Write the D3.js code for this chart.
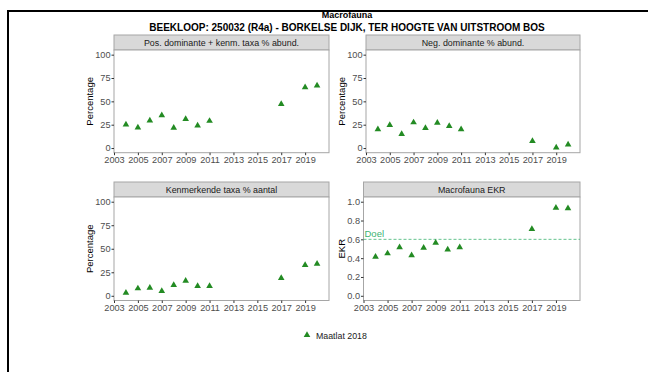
<!DOCTYPE html>
<html><head><meta charset="utf-8">
<script src="https://cdn.jsdelivr.net/npm/d3@7/dist/d3.min.js"></script>
<style>body{margin:0;background:#fff}svg{display:block;font-family:"Liberation Sans",Arial,sans-serif}</style>
</head><body>
<script>
const years = [2004, 2005, 2006, 2007, 2008, 2009, 2010, 2011, 2017, 2019, 2020];
const posDominant = [25, 22, 29.5, 35, 21.7, 31, 24, 29, 47, 65, 67];
const negDominant = [20, 24.5, 15, 27.4, 21.4, 27, 23.5, 20, 7.5, 0.4, 3.6];
const kenmerkend = [3.2, 7.8, 8.5, 5, 11.3, 16, 10.3, 10.3, 18.8, 32.6, 34];
const ekr = [0.415, 0.45, 0.514, 0.43, 0.51, 0.564, 0.49, 0.514, 0.71, 0.936, 0.93];
const xTicks = [2003, 2005, 2007, 2009, 2011, 2013, 2015, 2017, 2019];
const pctTicks = [0, 25, 50, 75, 100];
const ekrTicks = [0, 0.2, 0.4, 0.6, 0.8, 1.0];
const doel = 0.6;
const panelTitles = ["Pos. dominante + kenm. taxa % abund.", "Neg. dominante % abund.", "Kenmerkende taxa % aantal", "Macrofauna EKR"];
const title = "Macrofauna";
const subtitle = "BEEKLOOP: 250032 (R4a) - BORKELSE DIJK, TER HOOGTE VAN UITSTROOM BOS";
const legendLabel = "Maatlat 2018";

const W = 648, H = 372;
const svg = d3.select("body").append("svg").attr("width", W).attr("height", H);
svg.append("rect").attr("width", W).attr("height", H).attr("fill", "#fff");
svg.append("rect").attr("x", 8).attr("y", 11).attr("width", 660).attr("height", 400)
  .attr("fill", "none").attr("stroke", "#000").attr("stroke-width", 2);

svg.append("text").attr("x", 347).attr("y", 17.5).attr("text-anchor", "middle")
  .attr("font-size", 9).attr("font-weight", "bold").text(title);
svg.append("text").attr("x", 347).attr("y", 30.5).attr("text-anchor", "middle")
  .attr("font-size", 10).attr("font-weight", "bold").text(subtitle);

const green = "#238b23";
const tri = d3.symbol().type(d3.symbolTriangle).size(19);

const panels = [
  {x0: 114, x1: 329, top: 35, bottom: 152.7, values: posDominant, yDom: [-5, 105], ticks: pctTicks, fmt: d => d, ytitle: "Percentage", titleX: 93, name: panelTitles[0]},
  {x0: 366, x1: 580, top: 35, bottom: 152.7, values: negDominant, yDom: [-5, 105], ticks: pctTicks, fmt: d => d, ytitle: "Percentage", titleX: 345, name: panelTitles[1]},
  {x0: 114, x1: 329, top: 182, bottom: 300.5, values: kenmerkend, yDom: [-5, 105], ticks: pctTicks, fmt: d => d, ytitle: "Percentage", titleX: 93, name: panelTitles[2]},
  {x0: 363.5, x1: 580, top: 182, bottom: 300.5, values: ekr, yDom: [-0.05, 1.05], ticks: ekrTicks, fmt: d3.format(".1f"), ytitle: "EKR", titleX: 345, name: panelTitles[3], doel: true}
];

panels.forEach(p => {
  const stripH = 15;
  const pTop = p.top + stripH;
  const g = svg.append("g");
  const x = d3.scaleLinear().domain([2003, 2021]).range([p.x0, p.x1]);
  const y = d3.scaleLinear().domain(p.yDom).range([p.bottom, pTop]);
  g.append("rect").attr("x", p.x0).attr("y", p.top).attr("width", p.x1 - p.x0).attr("height", stripH)
    .attr("fill", "#d9d9d9").attr("stroke", "#a6a6a6").attr("stroke-width", 1);
  g.append("text").attr("x", (p.x0 + p.x1) / 2).attr("y", p.top + 10.8).attr("text-anchor", "middle")
    .attr("font-size", 8.9).attr("fill", "#1a1a1a").text(p.name);
  g.append("rect").attr("x", p.x0).attr("y", pTop).attr("width", p.x1 - p.x0).attr("height", p.bottom - pTop)
    .attr("fill", "#fff").attr("stroke", "#a6a6a6").attr("stroke-width", 1);
  const ya = g.append("g").attr("transform", `translate(${p.x0},0)`)
    .call(d3.axisLeft(y).tickValues(p.ticks).tickFormat(p.fmt).tickSize(2.5).tickPadding(1));
  ya.select(".domain").remove();
  ya.selectAll("line").attr("stroke", "#333");
  ya.selectAll("text").attr("font-size", 9.2).attr("fill", "#4d4d4d").attr("font-family", "Liberation Sans, Arial, sans-serif");
  const xa = g.append("g").attr("transform", `translate(0,${p.bottom})`)
    .call(d3.axisBottom(x).tickValues(xTicks).tickFormat(d3.format("d")).tickSize(2.5).tickPadding(1.5));
  xa.select(".domain").remove();
  xa.selectAll("line").attr("stroke", "#333");
  xa.selectAll("text").attr("font-size", 9.2).attr("fill", "#4d4d4d").attr("font-family", "Liberation Sans, Arial, sans-serif");
  g.append("text").attr("transform", `translate(${p.titleX},${(pTop + p.bottom) / 2}) rotate(-90)`)
    .attr("text-anchor", "middle").attr("font-size", 9.5).attr("fill", "#000").text(p.ytitle);
  if (p.doel) {
    g.append("line").attr("x1", p.x0).attr("x2", p.x1).attr("y1", y(doel)).attr("y2", y(doel))
      .attr("stroke", "#3cb371").attr("stroke-width", 0.8).attr("stroke-dasharray", "3,2");
    g.append("text").attr("x", p.x0 + 1).attr("y", y(doel) - 2.5).attr("font-size", 9.5)
      .attr("fill", "#3cb371").text("Doel");
  }
  g.selectAll("path.pt").data(years.map((yr, i) => [yr, p.values[i]])).join("path")
    .attr("class", "pt").attr("d", tri)
    .attr("transform", d => `translate(${x(d[0])},${y(d[1])})`)
    .attr("fill", green);
});

svg.append("path").attr("d", tri).attr("transform", "translate(307,335)").attr("fill", green);
svg.append("text").attr("x", 316).attr("y", 338.5).attr("font-size", 8.8).attr("fill", "#1a1a1a").text(legendLabel);
</script>
</body></html>
